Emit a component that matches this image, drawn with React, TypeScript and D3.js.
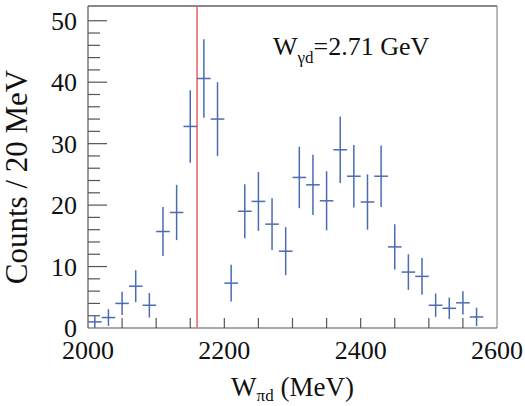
import React, { useRef, useEffect } from "react";
import * as d3 from "d3";

// bin centres (MeV), 20 MeV bins
const binCenters = [
  2010, 2030, 2050, 2070, 2090, 2110, 2130, 2150, 2170, 2190, 2210, 2230, 2250, 2270, 2290,
  2310, 2330, 2350, 2370, 2390, 2410, 2430, 2450, 2470, 2490, 2510, 2530, 2550, 2570,
];
const counts = [
  1.0, 1.7, 4.0, 6.8, 3.7, 15.7, 18.8, 32.8, 40.6, 34.0, 7.3, 19.0, 20.6, 16.9, 12.5,
  24.5, 23.3, 20.7, 29.0, 24.7, 20.5, 24.7, 13.2, 9.1, 8.4, 3.7, 3.2, 4.1, 1.8,
];
const errors = [
  1.0, 1.35, 1.9, 2.6, 2.0, 4.0, 4.5, 5.9, 6.4, 6.0, 3.0, 4.4, 4.8, 4.2, 3.9,
  5.0, 4.9, 4.8, 5.4, 5.1, 4.5, 5.0, 3.7, 2.9, 3.0, 1.9, 1.75, 1.9, 1.5,
];
const binWidth = 20;
const cutLine = 2160;
const xTickLabels = [2000, 2200, 2400, 2600];
const yTickLabels = [0, 10, 20, 30, 40, 50];

const App = () => {
  const svgRef = useRef<SVGSVGElement>(null);

  useEffect(() => {
    const svg = d3.select(svgRef.current);
    svg.selectAll("*").remove();

    const width = 525;
    const height = 406;
    const margin = { top: 6, right: 28, bottom: 78, left: 88 };
    const font = "Liberation Serif";
    const axisColor = "#555";
    const dataColor = "#4a6cb3";

    const x = d3
      .scaleLinear()
      .domain([2000, 2600])
      .range([margin.left, width - margin.right]);

    const y = d3
      .scaleLinear()
      .domain([0, 52.4])
      .range([height - margin.bottom, margin.top]);

    const x0 = margin.left;
    const x1 = width - margin.right;
    const y0 = height - margin.bottom;
    const y1 = margin.top;

    // frame
    svg.append("line").attr("x1", x0).attr("x2", x1).attr("y1", y1).attr("y2", y1)
      .attr("stroke", "#111").attr("stroke-width", 1);
    svg.append("line").attr("x1", x1).attr("x2", x1).attr("y1", y1).attr("y2", y0)
      .attr("stroke", "#777").attr("stroke-width", 1);
    svg.append("line").attr("x1", x0).attr("x2", x1).attr("y1", y0).attr("y2", y0)
      .attr("stroke", axisColor).attr("stroke-width", 1.2);
    svg.append("line").attr("x1", x0).attr("x2", x0).attr("y1", y1).attr("y2", y0)
      .attr("stroke", axisColor).attr("stroke-width", 1.2);

    // x ticks every 50 MeV
    const xTicks = d3.range(2050, 2600, 50);
    svg.append("g").selectAll("line").data(xTicks).join("line")
      .attr("x1", (d) => x(d)).attr("x2", (d) => x(d))
      .attr("y1", y0).attr("y2", y0 - 10)
      .attr("stroke", axisColor).attr("stroke-width", 1.2);

    svg.append("g").selectAll("text").data(xTickLabels).join("text")
      .attr("x", (d) => x(d)).attr("y", y0 + 31)
      .attr("text-anchor", "middle")
      .attr("font-family", font).attr("font-size", 26).attr("fill", "#111")
      .text((d) => d);

    // y ticks: major 10, minor 2
    const yMinor = d3.range(2, 52, 2).filter((d) => d % 10 !== 0);
    svg.append("g").selectAll("line").data(yMinor).join("line")
      .attr("x1", x0).attr("x2", x0 + 12)
      .attr("y1", (d) => y(d)).attr("y2", (d) => y(d))
      .attr("stroke", axisColor).attr("stroke-width", 1.2);
    svg.append("g").selectAll("line").data(yTickLabels.filter((d) => d > 0)).join("line")
      .attr("x1", x0).attr("x2", x0 + 19)
      .attr("y1", (d) => y(d)).attr("y2", (d) => y(d))
      .attr("stroke", axisColor).attr("stroke-width", 1.2);

    svg.append("g").selectAll("text").data(yTickLabels).join("text")
      .attr("x", x0 - 11).attr("y", (d) => y(d) + 9)
      .attr("text-anchor", "end")
      .attr("font-family", font).attr("font-size", 26).attr("fill", "#111")
      .text((d) => d);

    // axis titles
    const xTitle = svg.append("text")
      .attr("x", (x0 + x1) / 2).attr("y", 396)
      .attr("text-anchor", "middle")
      .attr("font-family", font).attr("font-size", 27).attr("fill", "#111");
    xTitle.append("tspan").text("W");
    xTitle.append("tspan").attr("dy", 5).attr("font-size", 17).text("πd");
    xTitle.append("tspan").attr("dy", -5).text(" (MeV)");

    svg.append("text")
      .attr("transform", `translate(27,${(y0 + y1) / 2 + 10}) rotate(-90)`)
      .attr("text-anchor", "middle")
      .attr("font-family", font).attr("font-size", 31).attr("fill", "#111")
      .text("Counts / 20 MeV");

    // annotation
    const note = svg.append("text")
      .attr("x", 273).attr("y", 55)
      .attr("font-family", font).attr("font-size", 26).attr("fill", "#111");
    note.append("tspan").text("W");
    note.append("tspan").attr("dy", 8).attr("font-size", 17).text("γd");
    note.append("tspan").attr("dy", -8).text("=2.71 GeV");

    // red cut line
    svg.append("line")
      .attr("x1", x(cutLine)).attr("x2", x(cutLine))
      .attr("y1", y1).attr("y2", y0)
      .attr("stroke", "#e86a6e").attr("stroke-width", 1.6);

    // histogram points with error bars
    const pts = binCenters.map((c, i) => ({ c, v: counts[i], e: errors[i] }));
    const g = svg.append("g").attr("stroke", dataColor).attr("stroke-width", 1.5);
    g.selectAll("line.h").data(pts).join("line").attr("class", "h")
      .attr("x1", (d) => x(d.c - binWidth / 2)).attr("x2", (d) => x(d.c + binWidth / 2))
      .attr("y1", (d) => y(d.v)).attr("y2", (d) => y(d.v));
    g.selectAll("line.v").data(pts).join("line").attr("class", "v")
      .attr("x1", (d) => x(d.c)).attr("x2", (d) => x(d.c))
      .attr("y1", (d) => y(Math.max(0, d.v - d.e)))
      .attr("y2", (d) => y(d.v + d.e));
  }, []);

  return (
    <svg
      ref={svgRef}
      width={525}
      height={406}
      style={{ position: "absolute", left: 0, top: 0, background: "#fff" }}
    ></svg>
  );
};

export default App;
